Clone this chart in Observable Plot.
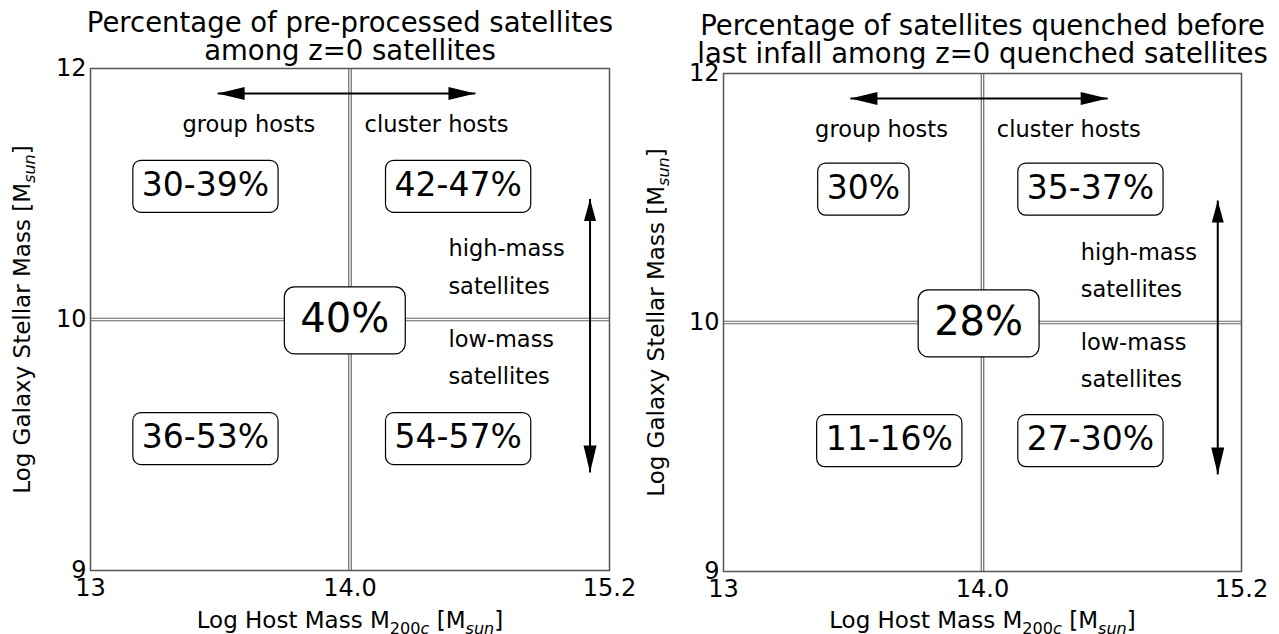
<!DOCTYPE html>
<html>
<head>
<meta charset="utf-8">
<script src="https://cdn.jsdelivr.net/npm/d3@7"></script>
<script src="https://cdn.jsdelivr.net/npm/@observablehq/plot@0.6"></script>
<style>
  body { margin: 0; background: white; }
  #wrap { display: flex; width: 1279px; height: 634px; }
  #wrap svg { display: block; flex: none; }
</style>
</head>
<body>
<div id="wrap"></div>
<script>
// ---- data ----
const xTicks = [13, 14.0, 15.2];
const xTickLabels = ["13", "14.0", "15.2"];
const yTicks = [9, 10, 12];
const yTickLabels = ["9", "10", "12"];
const xLabel = "Log Host Mass M_{200c} [M_{sun}]";
const yLabel = "Log Galaxy Stellar Mass [M_{sun}]";

const titles1 = ["Percentage of pre-processed satellites", "among z=0 satellites"];
const titles2 = ["Percentage of satellites quenched before", "last infall among z=0 quenched satellites"];

const hostLabels = ["group hosts", "cluster hosts"];
const hostX = [13.61, 14.40];
const hostY = [11.55, 11.55];
const massLabels = ["high-mass", "satellites", "low-mass", "satellites"];
const massX = [14.455, 14.455, 14.455, 14.455];
const massY = [10.56, 10.26, 9.92, 9.77];

const quadLabels1 = ["30-39%", "42-47%", "36-53%", "54-57%"];
const quadX1 = [13.443, 14.5, 13.443, 14.5];
const quadY1 = [11.07, 11.07, 9.53, 9.53];
const centerLabel1 = ["40%"];
const centerX1 = [13.98];
const centerY1 = [10];

const quadLabels2 = ["30%", "35-37%", "11-16%", "27-30%"];
const quadX2 = [13.54, 14.5, 13.64, 14.5];
const quadY2 = [11.08, 11.08, 9.53, 9.53];
const centerLabel2 = ["28%"];
const centerX2 = [13.985];
const centerY2 = [10];

// arrows: horizontal (host mass) and vertical (satellite mass)
const hArrowX1 = [13.49, 14.58];
const hArrowY1 = 11.80;
const vArrowX1 = 15.11;
const vArrowY1 = [9.39, 10.96];

const hArrowX2 = [13.49, 14.58];
const hArrowY2 = 11.80;
const vArrowX2 = 15.09;
const vArrowY2 = [9.39, 10.98];

// ---- helpers ----
function headSymbol(len, half) {
  return {draw(ctx) { ctx.moveTo(0, 0); ctx.lineTo(-half, len); ctx.lineTo(half, len); ctx.closePath(); }};
}

function panel(cfg) {
  const shafts = [
    {x1: cfg.hX[0], x2: cfg.hX[1], y1: cfg.hY, y2: cfg.hY},
    {x1: cfg.vX, x2: cfg.vX, y1: cfg.vY[0], y2: cfg.vY[1]}
  ];
  const longHeads = [
    {x: cfg.hX[0], y: cfg.hY, a: -90},
    {x: cfg.hX[1], y: cfg.hY, a: 90},
    {x: cfg.vX, y: cfg.vY[0], a: 180}
  ];
  const shortHeads = [{x: cfg.vX, y: cfg.vY[1], a: 0}];
  const hosts = hostLabels.map((t, i) => ({t, x: hostX[i], y: hostY[i]}));
  const masses = massLabels.map((t, i) => ({t, x: massX[i], y: massY[i]}));
  const quads = cfg.quadLabels.map((t, i) => ({t, x: cfg.quadX[i], y: cfg.quadY[i]}));
  const centers = cfg.centerLabel.map((t, i) => ({t, x: cfg.centerX[i], y: cfg.centerY[i]}));

  return Plot.plot({
    width: cfg.width,
    height: 634,
    marginLeft: cfg.ml, marginRight: cfg.mr, marginTop: cfg.mt, marginBottom: cfg.mb,
    style: {fontFamily: "'DejaVu Sans'", fontSize: "24px", background: "white", color: "black", overflow: "visible"},
    x: {type: "linear", domain: [13, 14, 15.2]},
    y: {type: "linear", domain: [9, 10, 12]},
    marks: [
      Plot.ruleX([14], {stroke: "#666", strokeWidth: 3.6}),
      Plot.ruleX([14], {stroke: "white", strokeWidth: 1.3}),
      Plot.ruleY([10], {stroke: "#666", strokeWidth: 3.6}),
      Plot.ruleY([10], {stroke: "white", strokeWidth: 1.3}),
      Plot.frame({stroke: "#555", strokeWidth: 1.5}),
      Plot.axisX({ticks: xTicks, tickSize: 0, tickPadding: 8, fontSize: 24, label: null,
        tickFormat: d => xTickLabels[xTicks.indexOf(d)]}),
      Plot.axisY({ticks: yTicks, tickSize: 0, tickPadding: 4, fontSize: 24, label: null,
        tickFormat: d => yTickLabels[yTicks.indexOf(d)]}),
      Plot.link(shafts, {x1: "x1", x2: "x2", y1: "y1", y2: "y2", stroke: "black", strokeWidth: 2}),
      Plot.dot(longHeads, {x: "x", y: "y", rotate: "a", symbol: headSymbol(27, 6.5), fill: "black", stroke: "none"}),
      Plot.dot(shortHeads, {x: "x", y: "y", rotate: "a", symbol: headSymbol(22, 6), fill: "black", stroke: "none"}),
      Plot.text(hosts, {x: "x", y: "y", text: "t", fontSize: 22.5, textAnchor: "middle", lineAnchor: "middle"}),
      Plot.text(masses, {x: "x", y: "y", text: "t", fontSize: 22.5, textAnchor: "start", lineAnchor: "middle"}),
      Plot.text(quads, {x: "x", y: "y", text: "t", fontSize: 33, textAnchor: "middle", lineAnchor: "middle"}),
      Plot.text(centers, {x: "x", y: "y", text: "t", fontSize: 40, textAnchor: "middle", lineAnchor: "middle"}),
      Plot.text([cfg.titles[0]], {text: d => d, frameAnchor: "top", dy: cfg.t1dy, fontSize: 27.5, textAnchor: "middle", lineAnchor: "middle"}),
      Plot.text([cfg.titles[1]], {text: d => d, frameAnchor: "top", dy: cfg.t2dy, fontSize: 27.5, textAnchor: "middle", lineAnchor: "middle"}),
      Plot.text([xLabel], {text: d => d, frameAnchor: "bottom", dy: cfg.xldy, fontSize: 23, textAnchor: "middle", lineAnchor: "middle"}),
      Plot.text([yLabel], {text: d => d, frameAnchor: "left", dx: cfg.yldx, rotate: -90, fontSize: 23, textAnchor: "middle", lineAnchor: "middle"})
    ]
  });
}

function applySubscripts(svg) {
  d3.select(svg).selectAll("text").each(function() {
    const t = this.textContent;
    if (!t.includes("_{")) return;
    const fs = parseFloat(getComputedStyle(this).fontSize);
    const shift = 0.24 * fs;
    const sel = d3.select(this);
    sel.text(null);
    const re = /_\{([^}]*)\}/g;
    let last = 0, m, pendingUp = false;
    const addNormal = s => {
      if (!s) return;
      const ts = sel.append("tspan").text(s);
      if (pendingUp) { ts.attr("dy", -shift); pendingUp = false; }
    };
    while ((m = re.exec(t))) {
      addNormal(t.slice(last, m.index));
      const runs = m[1].match(/[0-9]+|[^0-9]+/g);
      runs.forEach((r, i) => {
        const ts = sel.append("tspan").text(r).attr("font-size", 0.7 * fs);
        if (/[^0-9]/.test(r)) ts.attr("font-style", "italic");
        if (i === 0) ts.attr("dy", shift);
      });
      pendingUp = true;
      last = re.lastIndex;
    }
    addNormal(t.slice(last));
  });
}

function addBoxes(svg) {
  d3.select(svg).selectAll("text").filter(function() { return /%$/.test(this.textContent); }).each(function() {
    const fs = parseFloat(getComputedStyle(this).fontSize);
    const big = fs >= 38;
    const padX = big ? 16 : 9, h = big ? 67 : 52, rx = big ? 10 : 8;
    const b = this.getBBox();
    const rect = document.createElementNS("http://www.w3.org/2000/svg", "rect");
    rect.setAttribute("x", b.x - padX);
    rect.setAttribute("width", b.width + 2 * padX);
    rect.setAttribute("y", b.y + b.height / 2 - h / 2 + 2);
    rect.setAttribute("height", h);
    rect.setAttribute("rx", rx);
    rect.setAttribute("fill", "white");
    rect.setAttribute("stroke", "black");
    rect.setAttribute("stroke-width", 1.2);
    const tr = this.getAttribute("transform");
    if (tr) rect.setAttribute("transform", tr);
    this.parentNode.insertBefore(rect, this);
  });
}

const wrap = document.getElementById("wrap");
const p1 = panel({
  width: 640, ml: 90, mr: 31, mt: 68, mb: 64,
  titles: titles1, t1dy: -45.8, t2dy: -17.8, xldy: 50.6, yldx: -68,
  quadLabels: quadLabels1, quadX: quadX1, quadY: quadY1,
  centerLabel: centerLabel1, centerX: centerX1, centerY: centerY1,
  hX: hArrowX1, hY: hArrowY1, vX: vArrowX1, vY: vArrowY1
});
const p2 = panel({
  width: 639, ml: 83, mr: 38, mt: 73, mb: 63,
  titles: titles2, t1dy: -47.8, t2dy: -19.8, xldy: 49.6, yldx: -67,
  quadLabels: quadLabels2, quadX: quadX2, quadY: quadY2,
  centerLabel: centerLabel2, centerX: centerX2, centerY: centerY2,
  hX: hArrowX2, hY: hArrowY2, vX: vArrowX2, vY: vArrowY2
});
wrap.appendChild(p1);
wrap.appendChild(p2);
[p1, p2].forEach(s => { applySubscripts(s); addBoxes(s); });
</script>
</body>
</html>
